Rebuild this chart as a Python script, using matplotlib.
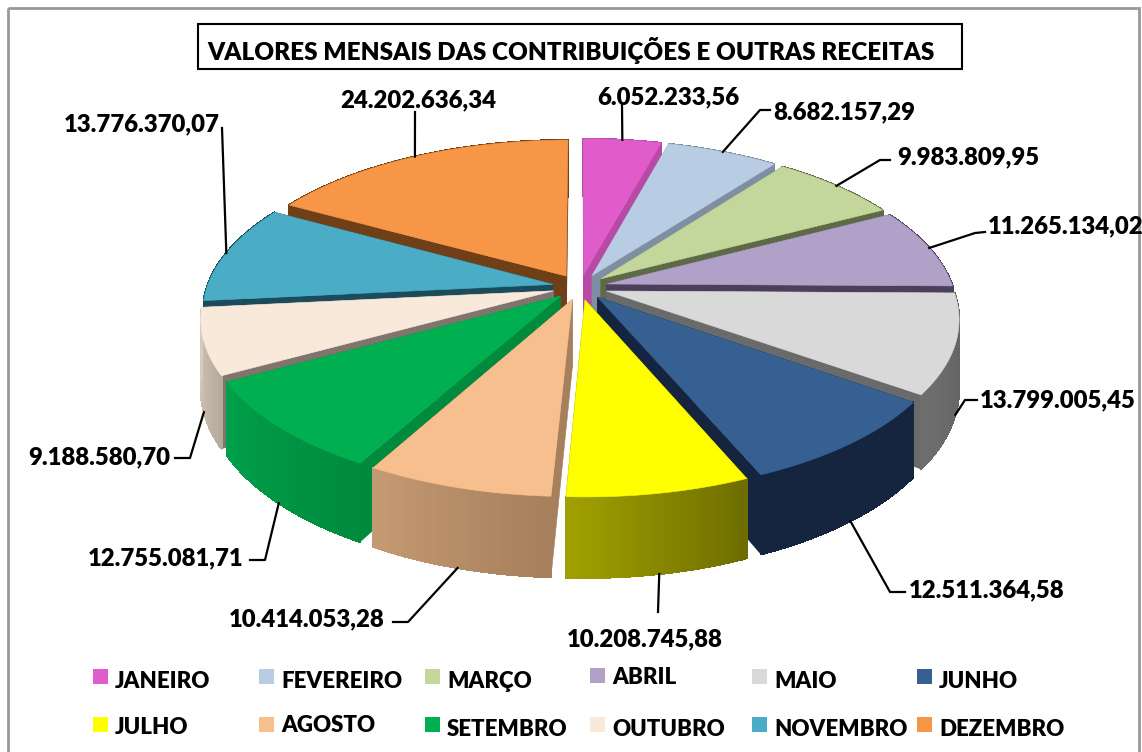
import numpy as np
import matplotlib
matplotlib.use('Agg')
import matplotlib.pyplot as plt
from matplotlib.colors import to_rgb
from matplotlib.patches import Polygon, Rectangle

months = ['JANEIRO', 'FEVEREIRO', 'MARÇO', 'ABRIL', 'MAIO', 'JUNHO',
          'JULHO', 'AGOSTO', 'SETEMBRO', 'OUTUBRO', 'NOVEMBRO', 'DEZEMBRO']
values = [6052233.56, 8682157.29, 9983809.95, 11265134.02, 13799005.45, 12511364.58,
          10208745.88, 10414053.28, 12755081.71, 9188580.70, 13776370.07, 24202636.34]

top_colors = ['#E05CCB', '#B8CCE4', '#C3D69B', '#B1A0C7', '#D9D9D9', '#366092',
              '#FFFF00', '#F8BF8E', '#00B050', '#F9E9DB', '#4BACC6', '#F79646']
cut_colors = ['#B84AA6', '#7F8FA3', '#5E6A45', '#4C3F5C', '#6A6A6A', '#15253F',
              '#6D6D00', '#A67F5C', '#008A3E', '#7F756D', '#1B4C5C', '#6F3F17']
side_start = ['#B84AA6', '#7F8FA3', '#5E6A45', '#4C3F5C', '#5F5F5F', '#15253F',
              '#6D6D00', '#A67F5C', '#008A3E', '#B5A99D', '#1B4C5C', '#6F3F17']
side_end = ['#B84AA6', '#7F8FA3', '#5E6A45', '#4C3F5C', '#6E6E6E', '#15253F',
            '#A0A000', '#C49A72', '#00A04A', '#D8CABC', '#1B4C5C', '#6F3F17']

# layout of the leader lines and labels, in pixels
elbows = [[(622, 105)], [(760, 110), (770, 110)], [(880, 160), (890, 160)],
          [(975, 233), (985, 232)], [(965, 400), (977, 400)], [(890, 592), (905, 592)],
          [(658, 612)], [(408, 622), (393, 622)], [(265, 560), (250, 560)],
          [(190, 458), (175, 458)], [(222, 128)], [(415, 112)]]
label_pos = [(668, 97, 'center'), (773, 112, 'left'), (897, 157, 'left'), (988, 226, 'left'),
             (980, 400, 'left'), (909, 590, 'left'), (645, 639, 'center'), (385, 619, 'right'),
             (243, 558, 'right'), (170, 457, 'right'), (142, 124, 'center'), (418, 100, 'center')]
legend_x = [93, 259, 425, 590, 752, 917]
legend_y = [[682, 682, 681, 677, 682, 682], [727, 726, 729, 729, 729, 729]]

plt.rcParams['font.family'] = ['Lato', 'DejaVu Sans']

cx, cy = 580, 287
rx, ry = 346, 161
k = 0.16
explode = 0.08
depth = 67


def project(x, y, z=0):
    s = 1 / (1 + k * y)
    return cx + rx * x * s, cy - ry * y * s + depth * z * s


def rim(theta, off, z=0):
    return project(np.sin(theta) + off[0], np.cos(theta) + off[1], z)


fig = plt.figure(figsize=(11.42, 7.52), dpi=100)
ax = fig.add_axes([0, 0, 1, 1])
ax.set_xlim(0, 1142)
ax.set_ylim(752, 0)
ax.axis('off')

ax.add_patch(Rectangle((8, 8), 1131, 760, fill=False, ec='#999999', lw=2))

total = sum(values)
edges = np.radians(np.cumsum([0] + values) / total * 360)
mids = (edges[:-1] + edges[1:]) / 2
order = np.argsort(-np.cos(mids))

for i in order:
    a, b, m = edges[i], edges[i + 1], mids[i]
    off = (explode * np.sin(m), explode * np.cos(m))
    thetas = np.linspace(a, b, 40)
    c0, c1 = np.array(to_rgb(side_start[i])), np.array(to_rgb(side_end[i]))

    quads = []
    for j in range(len(thetas) - 1):
        t0, t1 = thetas[j], thetas[j + 1]
        quad = [rim(t0, off), rim(t1, off), rim(t1, off, 1), rim(t0, off, 1)]
        col = c0 + (c1 - c0) * j / (len(thetas) - 2)
        quads.append((np.cos((t0 + t1) / 2), quad, col))

    for n, quad, col in quads:
        if n > 0:
            ax.add_patch(Polygon(quad, fc=col, ec=col, lw=0.8, antialiased=False))

    apex = project(off[0], off[1])
    apex_low = project(off[0], off[1], 1)
    for t in (a, b):
        face = [apex, rim(t, off), rim(t, off, 1), apex_low]
        ax.add_patch(Polygon(face, fc=cut_colors[i], ec=cut_colors[i], lw=0.4))

    for n, quad, col in quads:
        if n <= 0:
            ax.add_patch(Polygon(quad, fc=col, ec=col, lw=0.8, antialiased=False))

    top = [apex] + [rim(t, off) for t in thetas]
    ax.add_patch(Polygon(top, fc=top_colors[i], ec=top_colors[i], lw=0.4))

for i, v in enumerate(values):
    m = mids[i]
    off = (explode * np.sin(m), explode * np.cos(m))
    start = rim(m, off, 1 if np.cos(m) < 0 else 0)
    pts = [start] + elbows[i]
    ax.plot([p[0] for p in pts], [p[1] for p in pts], color='black', lw=1.6, zorder=5)
    text = f'{v:,.2f}'.replace(',', 'X').replace('.', ',').replace('X', '.')
    lx, ly, ha = label_pos[i]
    ax.text(lx, ly, text, ha=ha, va='center', fontsize=17.2, fontweight='heavy', color='black', zorder=6)

ax.add_patch(Rectangle((198, 24), 764, 45, fc='white', ec='black', lw=1.5, zorder=6))
ax.text(571, 51, 'VALORES MENSAIS DAS CONTRIBUIÇÕES E OUTRAS RECEITAS', ha='center', va='center',
        fontsize=17.5, fontweight='heavy', color='black', zorder=7)

for i, name in enumerate(months):
    row, col = i // 6, i % 6
    top_y = 669 + 48 * row
    if i == 3:
        top_y = 668
    ax.add_patch(Rectangle((legend_x[col], top_y), 15, 15, fc=top_colors[i], ec='none'))
    ax.text(legend_x[col] + 22, legend_y[row][col], name, ha='left', va='center',
            fontsize=16, fontweight='heavy', color='black')

fig.savefig('out.png', dpi=100)
